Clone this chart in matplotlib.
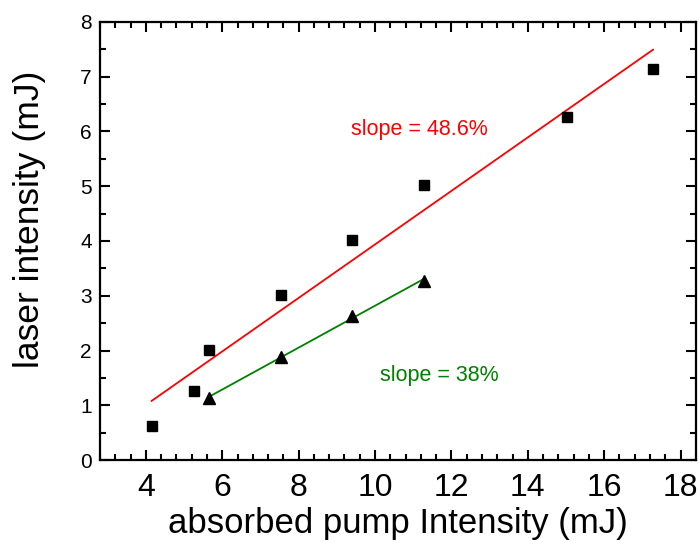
import numpy as np
import matplotlib
matplotlib.use("Agg")
import matplotlib.pyplot as plt
from matplotlib.ticker import MultipleLocator

plt.rcParams["font.family"] = ["Liberation Sans", "DejaVu Sans"]

# black squares: total laser output
sq_x = [4.15, 5.27, 5.65, 7.53, 9.4, 11.28, 15.03, 17.28]
sq_y = [0.63, 1.26, 2.01, 3.01, 4.02, 5.02, 6.26, 7.14]
# black triangles: second data set
tri_x = [5.65, 7.53, 9.4, 11.28]
tri_y = [1.13, 1.89, 2.64, 3.27]

red_label = "slope = 48.6%"
green_label = "slope = 38%"

fig = plt.figure(figsize=(7, 5.44), dpi=100)
ax = fig.add_axes([0.143, 0.154, 0.851, 0.806])

# linear fits
p_red = np.polyfit(sq_x, sq_y, 1)
xr = np.array([sq_x[0], sq_x[-1]])
ax.plot(xr, np.polyval(p_red, xr), color="red", lw=1.3, zorder=2)
p_green = np.polyfit(tri_x, tri_y, 1)
xg = np.array([tri_x[0], tri_x[-1]])
ax.plot(xg, np.polyval(p_green, xg), color="green", lw=1.3, zorder=2)

ax.plot(sq_x, sq_y, "s", color="black", ms=7.5, zorder=3)
ax.plot(tri_x, tri_y, "^", color="black", ms=9, zorder=3)

ax.text(9.37, 6.03, red_label, color="red", fontsize=15.5, va="center")
ax.text(10.14, 1.55, green_label, color="green", fontsize=15.5, va="center")

ax.set_xlim(2.8, 18.4)
ax.set_ylim(0, 8)
ax.xaxis.set_major_locator(MultipleLocator(2))
ax.xaxis.set_minor_locator(MultipleLocator(0.4))
ax.yaxis.set_major_locator(MultipleLocator(1))
ax.yaxis.set_minor_locator(MultipleLocator(0.5))
ax.tick_params(which="both", direction="in", top=True, right=True, width=1.5)
ax.tick_params(which="major", length=7)
ax.tick_params(which="minor", length=4)
ax.tick_params(axis="x", which="major", labelsize=23, pad=9)
ax.tick_params(axis="y", which="major", labelsize=15, pad=6)
for s in ax.spines.values():
    s.set_linewidth(1.6)

ax.set_xlabel("absorbed pump Intensity (mJ)", fontsize=25, labelpad=3)
ax.set_ylabel("laser intensity (mJ)", fontsize=25.5, va="center")
ax.yaxis.set_label_coords(-0.119, 0.55)

fig.savefig("out.png", dpi=100)
